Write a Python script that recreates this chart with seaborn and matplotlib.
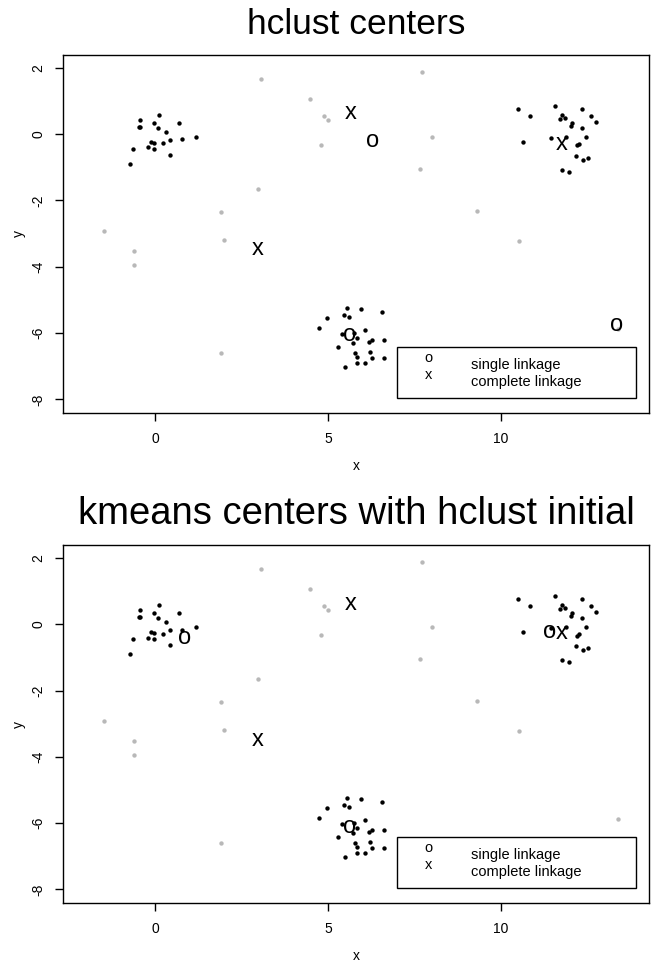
import matplotlib
matplotlib.use("Agg")
import matplotlib.pyplot as plt
import seaborn as sns
from matplotlib.patches import Rectangle

# points that belong to the four dense groups (drawn black)
clust_x = [0.10, -0.45, -0.04, 0.70, -0.48, -0.45, 0.08, 0.30, 1.18, -0.12,
           -0.05, 0.43, 0.77, 0.23, -0.64, -0.21, -0.04, 0.42, -0.72,
           10.51, 10.85, 11.58, 12.37, 11.78, 11.72, 11.87, 12.61, 12.76, 12.08,
           12.03, 12.36, 12.48, 10.64, 11.46, 11.89, 12.27, 12.22, 12.20, 12.40,
           12.54, 11.78, 11.99,
           5.55, 5.95, 6.57, 4.98, 5.47, 5.61, 4.73, 5.40, 6.07, 6.63,
           6.28, 6.19, 5.73, 5.30, 6.22, 5.79, 5.84, 6.27, 6.63, 5.85,
           6.06, 5.50, 5.83, 5.75]
clust_y = [0.58, 0.43, 0.34, 0.34, 0.23, 0.23, 0.20, 0.07, -0.07, -0.23,
           -0.26, -0.17, -0.16, -0.28, -0.44, -0.40, -0.46, -0.63, -0.91,
           0.76, 0.55, 0.86, 0.76, 0.58, 0.46, 0.50, 0.55, 0.36, 0.33,
           0.25, 0.18, -0.09, -0.24, -0.11, -0.07, -0.30, -0.34, -0.65, -0.78,
           -0.71, -1.07, -1.15,
           -5.24, -5.27, -5.37, -5.54, -5.46, -5.51, -5.86, -6.04, -5.92, -6.21,
           -6.21, -6.27, -6.31, -6.43, -6.57, -6.59, -6.71, -6.76, -6.74, -6.89,
           -6.91, -7.02, -6.14, -5.99]

# scattered noise points (drawn gray)
noise_x = [-1.49, -0.61, -0.61, 1.89, 1.98, 1.91, 2.97, 3.07, 4.47, 4.90,
           4.99, 4.79, 7.72, 8.01, 7.66, 9.33, 10.53, 13.41]
noise_y = [-2.92, -3.52, -3.95, -2.35, -3.19, -6.59, -1.66, 1.68, 1.07, 0.54,
           0.44, -0.33, 1.88, -0.08, -1.05, -2.32, -3.21, -5.89]

# hclust centers
hc_single_x = [6.29, 5.62, 13.35]
hc_single_y = [-0.22, -6.06, -5.76]
hc_complete_x = [5.65, 2.97, 11.77]
hc_complete_y = [0.63, -3.46, -0.29]

# kmeans centers started from the hclust solutions
km_single_x = [0.86, 11.43, 5.62]
km_single_y = [-0.43, -0.22, -6.11]
km_complete_x = [5.65, 2.97, 11.77]
km_complete_y = [0.61, -3.49, -0.27]

titles = ["hclust centers", "kmeans centers with hclust initial"]
title_sizes = [25.5, 27.5]
legend_labels = ["single linkage", "complete linkage"]
x_ticks = [0, 5, 10]
y_ticks = [-8, -6, -4, -2, 0, 2]

sns.set_style("white")
plt.rcParams["font.family"] = ["Liberation Sans", "DejaVu Sans"]
plt.rcParams["text.color"] = "black"
plt.rcParams["axes.labelcolor"] = "black"

fig = plt.figure(figsize=(6.64, 9.66), dpi=100)
ax_top = fig.add_axes([0.0956, 0.5725, 0.8818, 0.3706])
ax_bot = fig.add_axes([0.0956, 0.0652, 0.8818, 0.3706])


def draw_panel(ax, title, tsize, sx, sy, cx, cy):
    sns.scatterplot(x=noise_x, y=noise_y, color="#b8b8b8", s=10,
                    linewidth=0, ax=ax, zorder=2)
    sns.scatterplot(x=clust_x, y=clust_y, color="black", s=10,
                    linewidth=0, ax=ax, zorder=3)
    for x, y in zip(sx, sy):
        ax.text(x, y, "o", fontsize=17, ha="center", va="center", zorder=4)
    for x, y in zip(cx, cy):
        ax.text(x, y, "x", fontsize=17, ha="center", va="center", zorder=4)

    ax.set_xlim(-2.66, 14.3)
    ax.set_ylim(-8.41, 2.39)
    ax.set_xticks(x_ticks)
    ax.set_yticks(y_ticks)
    ax.set_xticklabels([str(t) for t in x_ticks])
    ax.set_yticklabels([str(t) for t in y_ticks], rotation=90, va="center")
    ax.tick_params(axis="both", direction="out", length=6, width=1,
                   labelsize=10, colors="black",
                   bottom=True, left=True, top=False, right=False)
    ax.tick_params(axis="x", pad=8)
    ax.tick_params(axis="y", pad=7)
    for sp in ax.spines.values():
        sp.set_visible(True)
        sp.set_color("black")
        sp.set_linewidth(1)
    ax.set_xlabel("x", fontsize=10, labelpad=9)
    ax.set_ylabel("y", fontsize=10, labelpad=4)
    ax.set_title(title, fontsize=tsize, pad=15, color="black")

    # legend box, drawn like R's legend()
    ax.add_patch(Rectangle((0.5696, 0.0427), 0.4082, 0.1425,
                           transform=ax.transAxes, fill=False,
                           edgecolor="black", linewidth=1, zorder=5))
    ax.text(0.6236, 0.1536, "o", transform=ax.transAxes, fontsize=10.5,
            ha="center", va="center", zorder=6)
    ax.text(0.6236, 0.1061, "x", transform=ax.transAxes, fontsize=10.5,
            ha="center", va="center", zorder=6)
    ax.text(0.696, 0.134, legend_labels[0], transform=ax.transAxes,
            fontsize=10.5, ha="left", va="center", zorder=6)
    ax.text(0.696, 0.0866, legend_labels[1], transform=ax.transAxes,
            fontsize=10.5, ha="left", va="center", zorder=6)


draw_panel(ax_top, titles[0], title_sizes[0],
           hc_single_x, hc_single_y, hc_complete_x, hc_complete_y)
draw_panel(ax_bot, titles[1], title_sizes[1],
           km_single_x, km_single_y, km_complete_x, km_complete_y)

fig.savefig("out.png", dpi=100)
